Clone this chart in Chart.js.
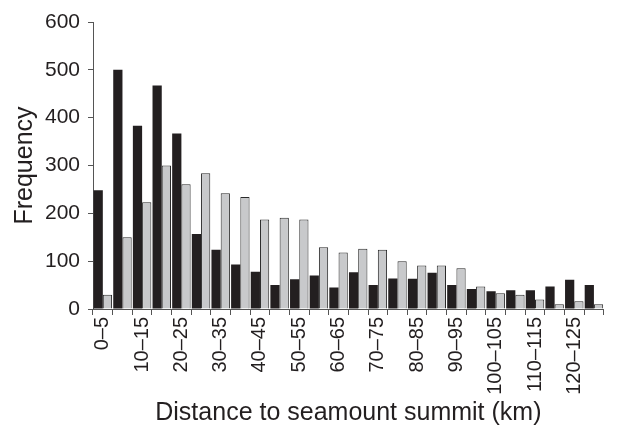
<!DOCTYPE html>
<html>
<head>
<meta charset="utf-8">
<script src="https://cdn.jsdelivr.net/npm/chart.js@4"></script>
<style>
  html, body { margin: 0; padding: 0; background: #fff; }
  #wrap { width: 620px; height: 427px; }
</style>
</head>
<body>
<div id="wrap"><canvas id="chart" width="620" height="427"></canvas></div>
<script>
// distance classes (km)
const categories = ["0–5","5–10","10–15","15–20","20–25","25–30","30–35","35–40","40–45","45–50",
  "50–55","55–60","60–65","65–70","70–75","75–80","80–85","85–90","90–95","95–100",
  "100–105","105–110","110–115","115–120","120–125","125–130"];

// black bars
const seriesDark = [248, 500, 383, 467, 367, 157, 124, 93, 78, 50,
  62, 70, 45, 77, 50, 64, 63, 76, 50, 42,
  37, 39, 39, 47, 61, 50];

// grey bars
const seriesLight = [30, 150, 223, 300, 261, 284, 242, 234, 187, 191,
  187, 129, 118, 126, 124, 100, 91, 91, 85, 47,
  33, 30, 20, 10, 16, 10];

const yTicks = [0, 100, 200, 300, 400, 500, 600];

const ink = "#231f20";
const axisCol = "#555";
const fontFam = "'Liberation Sans', Arial, sans-serif";

new Chart(document.getElementById("chart").getContext("2d"), {
  type: "bar",
  data: {
    labels: categories,
    datasets: [
      {
        data: seriesDark,
        backgroundColor: ink,
        borderColor: ink,
        borderWidth: 0
      },
      {
        data: seriesLight,
        backgroundColor: "#c8c9cb",
        borderColor: "#2a2a2a",
        borderWidth: 1,
        borderSkipped: "bottom"
      }
    ]
  },
  options: {
    responsive: false,
    animation: false,
    devicePixelRatio: 1,
    layout: { padding: { top: 22, right: 4, left: 0, bottom: 0 } },
    plugins: { legend: { display: false }, tooltip: { enabled: false } },
    datasets: { bar: { barPercentage: 1, categoryPercentage: 0.94 } },
    scales: {
      x: {
        offset: true,
        grid: { offset: true, drawOnChartArea: false, tickLength: 6, tickColor: axisCol, lineWidth: 1 },
        border: { color: axisCol, width: 1 },
        ticks: {
          autoSkip: false,
          minRotation: 90,
          maxRotation: 90,
          padding: 2,
          color: ink,
          font: { family: fontFam, size: 20 },
          callback: function (val, i) { return i % 2 === 0 ? categories[i] : ""; }
        },
        title: {
          display: true,
          text: "Distance to seamount summit (km)",
          color: ink,
          font: { family: fontFam, size: 25, lineHeight: 1 },
          padding: { top: 0, bottom: 1 }
        },
        afterFit: function (s) { s.height = 118; }
      },
      y: {
        min: 0,
        max: 600,
        afterBuildTicks: function (s) { s.ticks = yTicks.map(v => ({ value: v })); },
        grid: { drawOnChartArea: false, tickLength: 5, tickColor: axisCol },
        border: { color: axisCol, width: 1 },
        ticks: {
          padding: 8,
          color: ink,
          font: { family: fontFam, size: 21 }
        },
        title: {
          display: true,
          text: "Frequency",
          color: ink,
          font: { family: fontFam, size: 25 },
          padding: { top: 10, bottom: 0 }
        },
        afterFit: function (s) { s.width = 93; }
      }
    }
  }
});
</script>
</body>
</html>
